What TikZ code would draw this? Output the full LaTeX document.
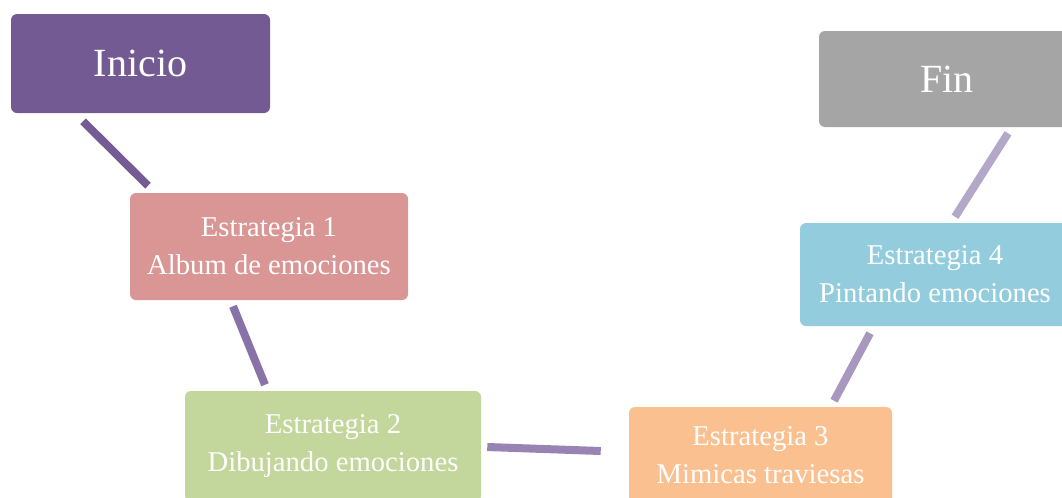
\documentclass[tikz,border=0pt]{standalone}
\usepackage{fontspec}
\setmainfont{Liberation Serif}
\usetikzlibrary{calc}
\definecolor{cIni}{RGB}{116,90,147}
\definecolor{cFin}{RGB}{165,165,165}
\definecolor{cE1}{RGB}{217,150,148}
\definecolor{cE2}{RGB}{195,214,155}
\definecolor{cE3}{RGB}{250,192,144}
\definecolor{cE4}{RGB}{147,205,221}
\definecolor{cL1}{RGB}{117,91,148}
\definecolor{cL2}{RGB}{137,114,168}
\definecolor{cL3}{RGB}{152,132,180}
\definecolor{cL4}{RGB}{168,152,192}
\definecolor{cL5}{RGB}{180,168,200}
\tikzset{
  box/.style={rounded corners=4.5pt, inner sep=0pt, align=center, text=white},
  bigbox/.style={box, font=\fontsize{30}{34}\selectfont},
  smallbox/.style={box, font=\fontsize{21.5}{28.5}\selectfont},
  link/.style={line width=6pt, line cap=butt}
}
\begin{document}
\begin{tikzpicture}[x=0.75pt,y=-0.75pt]
\clip (0,0) rectangle (1062,497);
\fill[white] (0,0) rectangle (1062,497);
\node[bigbox, fill=cIni, minimum width=194.25pt, minimum height=74.25pt] (ini) at (140.5,63.5) {Inicio};
\node[bigbox, fill=cFin, minimum width=192pt, minimum height=72pt] (fin) at (947,79) {Fin};
\node[smallbox, fill=cE1, minimum width=208.5pt, minimum height=80.25pt] (e1) at (269,246.5) {Estrategia 1\\Album de emociones};
\node[smallbox, fill=cE2, minimum width=222pt, minimum height=83.25pt] (e2) at (333,446.5) {Estrategia 2\\Dibujando emociones};
\node[smallbox, fill=cE3, minimum width=197.25pt, minimum height=72.75pt] (e3) at (760.5,455.5) {Estrategia 3\\Mimicas traviesas};
\node[smallbox, fill=cE4, minimum width=202.5pt, minimum height=77.25pt] (e4) at (935,274.5) {Estrategia 4\\Pintando emociones};
\draw[link, cL1] ([shift={(-57.5,8)}]ini.south) -- ([shift={(-121,-7)}]e1.north);
\draw[link, cL2] ([shift={(-36,6)}]e1.south) -- ([shift={(-68,-6)}]e2.north);
\draw[link, cL3] ([shift={(6,0.5)}]e2.east) -- ([shift={(-28,-4.5)}]e3.west);
\draw[link, cL4] ([shift={(73.5,-6)}]e3.north) -- ([shift={(-65,7)}]e4.south);
\draw[link, cL5] ([shift={(20,-6)}]e4.north) -- ([shift={(61,6)}]fin.south);
\end{tikzpicture}
\end{document}
